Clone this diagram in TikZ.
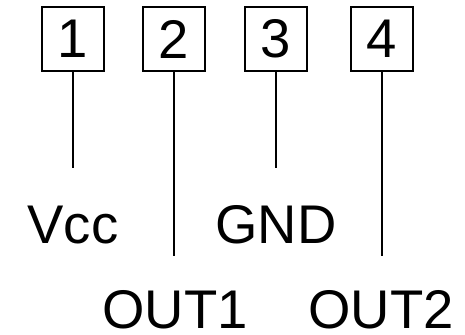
\documentclass[tikz,border=0pt]{standalone}
\usepackage{fontspec}
\setmainfont{Liberation Sans}
\usetikzlibrary{positioning}

\tikzset{
	pinbox/.style={draw, line width=0.6pt, minimum width=1.24cm, minimum height=1.28cm, inner sep=0pt, font=\fontsize{31pt}{37pt}\selectfont},
	pinlabel/.style={inner sep=0pt, anchor=base, font=\fontsize{31pt}{37pt}\selectfont},
	lead/.style={line width=0.6pt}
}

\begin{document}
\begin{tikzpicture}[x=0.02cm, y=-0.02cm]
	\useasboundingbox (0,0) rectangle (465,334);
	
	% pins
	\node[pinbox] (p1) at (73,39) {1};
	\node[pinbox] (p2) at (174,39) {2};
	\node[pinbox] (p3) at (276,39) {3};
	\node[pinbox] (p4) at (382,39) {4};
	
	% labels
	\node[pinlabel] (vcc) at (73,243) {Vcc};
	\node[pinlabel] (gnd) at (276,243) {GND};
	\node[pinlabel] (out1) at (175,328) {OUT1};
	\node[pinlabel] (out2) at (381,328) {OUT2};
	
	% lead ends
	\coordinate (e1) at (73,168);
	\coordinate (e2) at (174,256);
	\coordinate (e3) at (276,168);
	\coordinate (e4) at (382,256);
	
	\draw[lead] (p1.south)--(e1);
	\draw[lead] (p2.south)--(e2);
	\draw[lead] (p3.south)--(e3);
	\draw[lead] (p4.south)--(e4);
\end{tikzpicture}
\end{document}
